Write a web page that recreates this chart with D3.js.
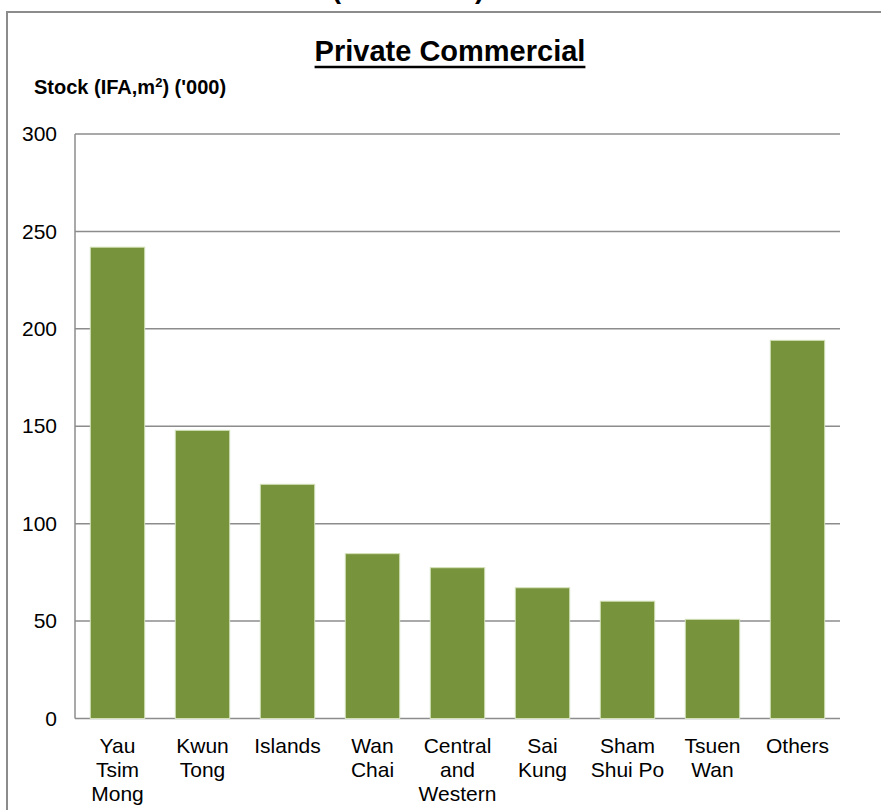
<!DOCTYPE html>
<html>
<head>
<meta charset="utf-8">
<script src="https://cdn.jsdelivr.net/npm/d3@7"></script>
<style>
  html, body { margin: 0; padding: 0; background: #fff; }
  svg { display: block; font-family: "Liberation Sans", Arial, sans-serif; }
</style>
</head>
<body>
<svg id="chart" width="881" height="810"></svg>
<script>
const categories = [
  ["Yau", "Tsim", "Mong"],
  ["Kwun", "Tong"],
  ["Islands"],
  ["Wan", "Chai"],
  ["Central", "and", "Western"],
  ["Sai", "Kung"],
  ["Sham", "Shui Po"],
  ["Tsuen", "Wan"],
  ["Others"]
];
const values = [241.9, 147.9, 120.2, 84.6, 77.4, 67.1, 60.2, 50.9, 194.1];
const yTicks = [0, 50, 100, 150, 200, 250, 300];
const titleText = "Private Commercial";
const upperText = "(2014-2015)";

const svg = d3.select("#chart");
const margin = { left: 75, right: 840, top: 134, bottom: 718.5 };

// outer frame (extends past the window)
svg.append("rect")
  .attr("x", 7).attr("y", 12).attr("width", 1000).attr("height", 1000)
  .attr("fill", "none").attr("stroke", "#8c8c8c").attr("stroke-width", 2);

// cut-off text above the frame
svg.append("text")
  .attr("x", 408).attr("y", -2)
  .attr("text-anchor", "middle")
  .attr("font-size", 28).attr("font-weight", "bold")
  .text(upperText);

const x = d3.scaleBand()
  .domain(categories.map((d, i) => i))
  .range([margin.left, margin.right])
  .paddingInner(0.36).paddingOuter(0.18);

const y = d3.scaleLinear().domain([0, 300]).range([margin.bottom, margin.top]);

// gridlines
svg.append("g").selectAll("line").data(yTicks).join("line")
  .attr("x1", margin.left).attr("x2", margin.right)
  .attr("y1", d => y(d)).attr("y2", d => y(d))
  .attr("stroke", "#8c8c8c").attr("stroke-width", 1.5);

// y axis line
svg.append("line")
  .attr("x1", margin.left).attr("x2", margin.left)
  .attr("y1", y(300)).attr("y2", y(0))
  .attr("stroke", "#8c8c8c").attr("stroke-width", 1.5);

// y tick labels
const yAxis = d3.axisLeft(y).tickValues(yTicks).tickSize(0).tickPadding(18);
const yg = svg.append("g").attr("transform", `translate(${margin.left},0)`).call(yAxis);
yg.select(".domain").remove();
yg.selectAll("text")
  .attr("font-size", 21).attr("fill", "#000")
  .attr("font-family", "'Liberation Sans', Arial, sans-serif");

// bars
svg.append("g").selectAll("rect").data(values).join("rect")
  .attr("x", (d, i) => x(i))
  .attr("width", x.bandwidth())
  .attr("y", d => y(d))
  .attr("height", d => y(0) - y(d))
  .attr("fill", "#77933c")
  .attr("stroke", "#d3e1b8").attr("stroke-width", 1);

// category labels
const labels = svg.append("g").selectAll("text").data(categories).join("text")
  .attr("text-anchor", "middle")
  .attr("font-size", 21)
  .attr("fill", "#000");
labels.each(function(lines, i) {
  const t = d3.select(this);
  lines.forEach((ln, j) => {
    t.append("tspan")
      .attr("x", x(i) + x.bandwidth() / 2)
      .attr("y", 753 + j * 24)
      .text(ln);
  });
});

// title
const title = svg.append("text")
  .attr("x", 450).attr("y", 61)
  .attr("text-anchor", "middle")
  .attr("font-size", 29).attr("font-weight", "bold")
  .text(titleText);
const tb = title.node().getBBox();
svg.append("line")
  .attr("x1", tb.x).attr("x2", tb.x + tb.width)
  .attr("y1", 67).attr("y2", 67)
  .attr("stroke", "#000").attr("stroke-width", 2.5);

// axis title
const at = svg.append("text")
  .attr("x", 34).attr("y", 94)
  .attr("font-size", 20).attr("font-weight", "bold");
at.append("tspan").text("Stock (IFA,m");
at.append("tspan").attr("dy", -7).attr("font-size", 13).text("2");
at.append("tspan").attr("dy", 7).text(") ('000)");
</script>
</body>
</html>
